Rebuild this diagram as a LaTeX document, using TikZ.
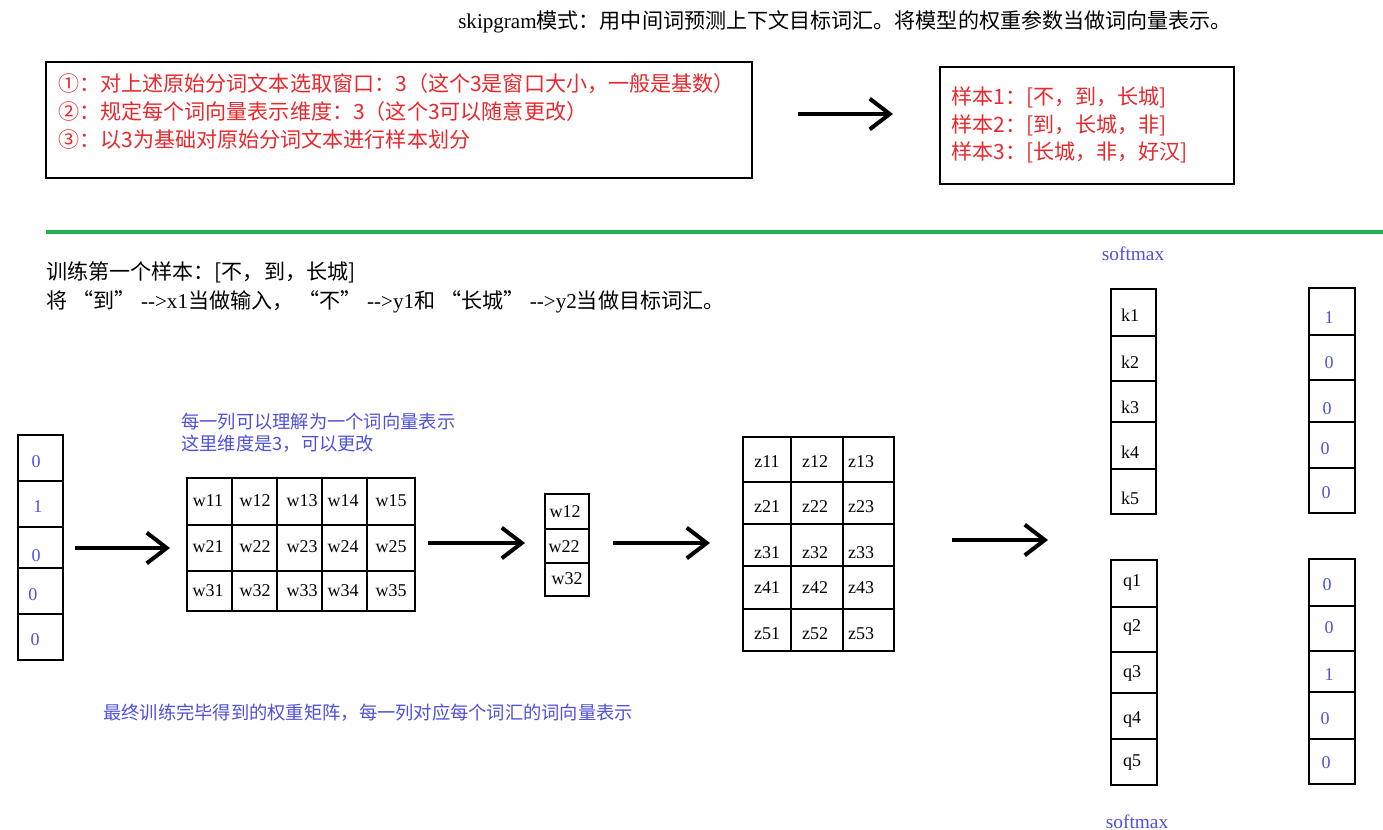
\documentclass[tikz,border=0pt]{standalone}
\usepackage{fontspec}
\setmainfont{Noto Sans CJK SC}
\newfontfamily\lat{Liberation Serif}
\usetikzlibrary{arrows.meta,fit}
\definecolor{myred}{RGB}{232,40,44}
\definecolor{myblue}{RGB}{80,80,220}
\definecolor{mygreen}{RGB}{34,177,76}
\newcommand{\oq}{\hspace{0.25em}“}
\newcommand{\cq}{”\hspace{0.25em}}
\tikzset{
  grid/.style={line width=1.6pt, draw=black},
  frame/.style={line width=2.2pt, draw=black},
  mat/.style={fit={#1}, inner sep=0pt, draw=black, line width=1.8pt},
  big/.style={font=\fontsize{15.8}{18}\selectfont, anchor=west, inner sep=0pt},
  small/.style={font=\fontsize{13.7}{16}\selectfont, anchor=west, inner sep=0pt, text=myblue},
  lbl/.style={font=\lat\fontsize{13.5}{15}\selectfont, inner sep=0pt},
  val/.style={font=\lat\fontsize{13.5}{15}\selectfont, inner sep=0pt, text=myblue},
  smx/.style={font=\lat\fontsize{14.5}{16}\selectfont, inner sep=0pt, text=myblue},
  bigarrow/.style={line width=3pt, -{Straight Barb[length=15pt,width=23pt]}},
}
\begin{document}
\begin{tikzpicture}[x=0.75pt,y=-0.75pt]
\useasboundingbox (0,0) rectangle (1383,830);
\clip (0,0) rectangle (1383,830);
\fill[white] (0,0) rectangle (1383,830);

% title
\node[big] (title) at (458,22) {{\lat skipgram}模式：用中间词预测上下文目标词汇。将模型的权重参数当做词向量表示。};

% red box
\node[fit={(46,62) (752,178)}, inner sep=0pt, frame] (rbox) {};
\node[big, text=myred] (r1) at (58,84) {①：对上述原始分词文本选取窗口：3（这个3是窗口大小，一般是基数）};
\node[big, text=myred] (r2) at (58,111) {②：规定每个词向量表示维度：3（这个3可以随意更改）};
\node[big, text=myred] (r3) at (58,139) {③：以3为基础对原始分词文本进行样本划分};

% top arrow
\coordinate (ta1) at (798,114);
\coordinate (ta2) at (893,114);
\draw[bigarrow] (ta1) -- (ta2);

% sample box
\node[fit={(940,67) (1234,184)}, inner sep=0pt, frame] (sbox) {};
\node[big, text=myred] (s1) at (951,97) {样本1：[不，到，长城]};
\node[big, text=myred] (s2) at (951,125) {样本2：[到，长城，非]};
\node[big, text=myred] (s3) at (951,152) {样本3：[长城，非，好汉]};

% green line
\coordinate (g1) at (46,232);
\coordinate (g2) at (1383,232);
\draw[mygreen, line width=3pt] (g1) -- (g2);

% training text
\node[big] (t1) at (46,272) {训练第一个样本：[不，到，长城]};
\node[big] (t2) at (46,302) {将\oq 到\cq{\lat-{}->x1}当做输入，\oq 不\cq{\lat-{}->y1}和\oq 长城\cq{\lat-{}->y2}当做目标词汇。};

% softmax labels
\node[smx, anchor=center] (sm1) at (1133,254) {softmax};
\node[smx, anchor=south] (sm2) at (1137,829) {softmax};

% input one-hot vector
\node[mat={(18,435) (63,660)}] (xv) {};
\foreach \y in {481,527,568,614} \draw[grid] (18,\y) -- (63,\y);
\node[val] (x1) at (36,462) {0};
\node[val] (x2) at (38,507) {1};
\node[val] (x3) at (36,556) {0};
\node[val] (x4) at (33,595) {0};
\node[val] (x5) at (35,640) {0};

\coordinate (a1s) at (75,548);
\coordinate (a1e) at (170,548);
\draw[bigarrow] (a1s) -- (a1e);

% blue note
\node[small] (n1) at (181,422) {每一列可以理解为一个词向量表示};
\node[small] (n2) at (181,444) {这里维度是3，可以更改};

% W matrix
\node[mat={(187,478) (415,611)}] (W) {};
\foreach \x in {232,277,322,367} \draw[grid] (\x,478) -- (\x,611);
\foreach \y in {525,571} \draw[grid] (187,\y) -- (415,\y);
\foreach \c/\x in {1/208,2/255,3/302,4/343,5/391}
  \foreach \r/\y in {1/501,2/547,3/591}
    \node[lbl] (w\r\c) at (\x,\y) {w\r\c};

\coordinate (a2s) at (428,543);
\coordinate (a2e) at (525,543);
\draw[bigarrow] (a2s) -- (a2e);

% hidden vector
\node[mat={(545,494) (589,596)}] (H) {};
\foreach \y in {529,563} \draw[grid] (545,\y) -- (589,\y);
\node[lbl] (h1) at (565,512) {w12};
\node[lbl] (h2) at (564,547) {w22};
\node[lbl] (h3) at (567,579) {w32};

\coordinate (a3s) at (613,543);
\coordinate (a3e) at (710,543);
\draw[bigarrow] (a3s) -- (a3e);

% Z matrix
\node[mat={(743,437) (894,651)}] (Z) {};
\foreach \x in {791,843} \draw[grid] (\x,437) -- (\x,651);
\foreach \y in {482,524,566,609} \draw[grid] (743,\y) -- (894,\y);
\foreach \c/\x in {1/767,2/815,3/861}
  \foreach \r/\y in {1/462,2/507,3/553,4/588,5/634}
    \node[lbl] (z\r\c) at (\x,\y) {z\r\c};

\coordinate (a4s) at (952,540);
\coordinate (a4e) at (1048,540);
\draw[bigarrow] (a4s) -- (a4e);

% k column
\node[mat={(1111,289) (1156,514)}] (K) {};
\foreach \y in {336,381,422,469} \draw[grid] (1111,\y) -- (1156,\y);
\foreach \i/\y in {1/315,2/362,3/407,4/452,5/498}
  \node[lbl] (k\i) at (1130,\y) {k\i};

% target 1
\node[mat={(1309,288) (1355,513)}] (T1) {};
\foreach \y in {335,380,422,468} \draw[grid] (1309,\y) -- (1355,\y);
\node[val] (t11) at (1329,318) {1};
\node[val] (t12) at (1329,363) {0};
\node[val] (t13) at (1327,409) {0};
\node[val] (t14) at (1325,449) {0};
\node[val] (t15) at (1326,493) {0};

% q column
\node[mat={(1111,560) (1157,785)}] (Q) {};
\foreach \y in {607,652,693,739} \draw[grid] (1111,\y) -- (1157,\y);
\foreach \i/\y in {1/582,2/627,3/673,4/719,5/763}
  \node[lbl] (q\i) at (1132,\y) {q\i};

% target 2
\node[mat={(1309,559) (1355,784)}] (T2) {};
\foreach \y in {606,651,692,739} \draw[grid] (1309,\y) -- (1355,\y);
\node[val] (t21) at (1327,585) {0};
\node[val] (t22) at (1329,628) {0};
\node[val] (t23) at (1329,675) {1};
\node[val] (t24) at (1325,719) {0};
\node[val] (t25) at (1326,763) {0};

% bottom note
\node[small] (n3) at (103,713) {最终训练完毕得到的权重矩阵，每一列对应每个词汇的词向量表示};
\end{tikzpicture}
\end{document}
